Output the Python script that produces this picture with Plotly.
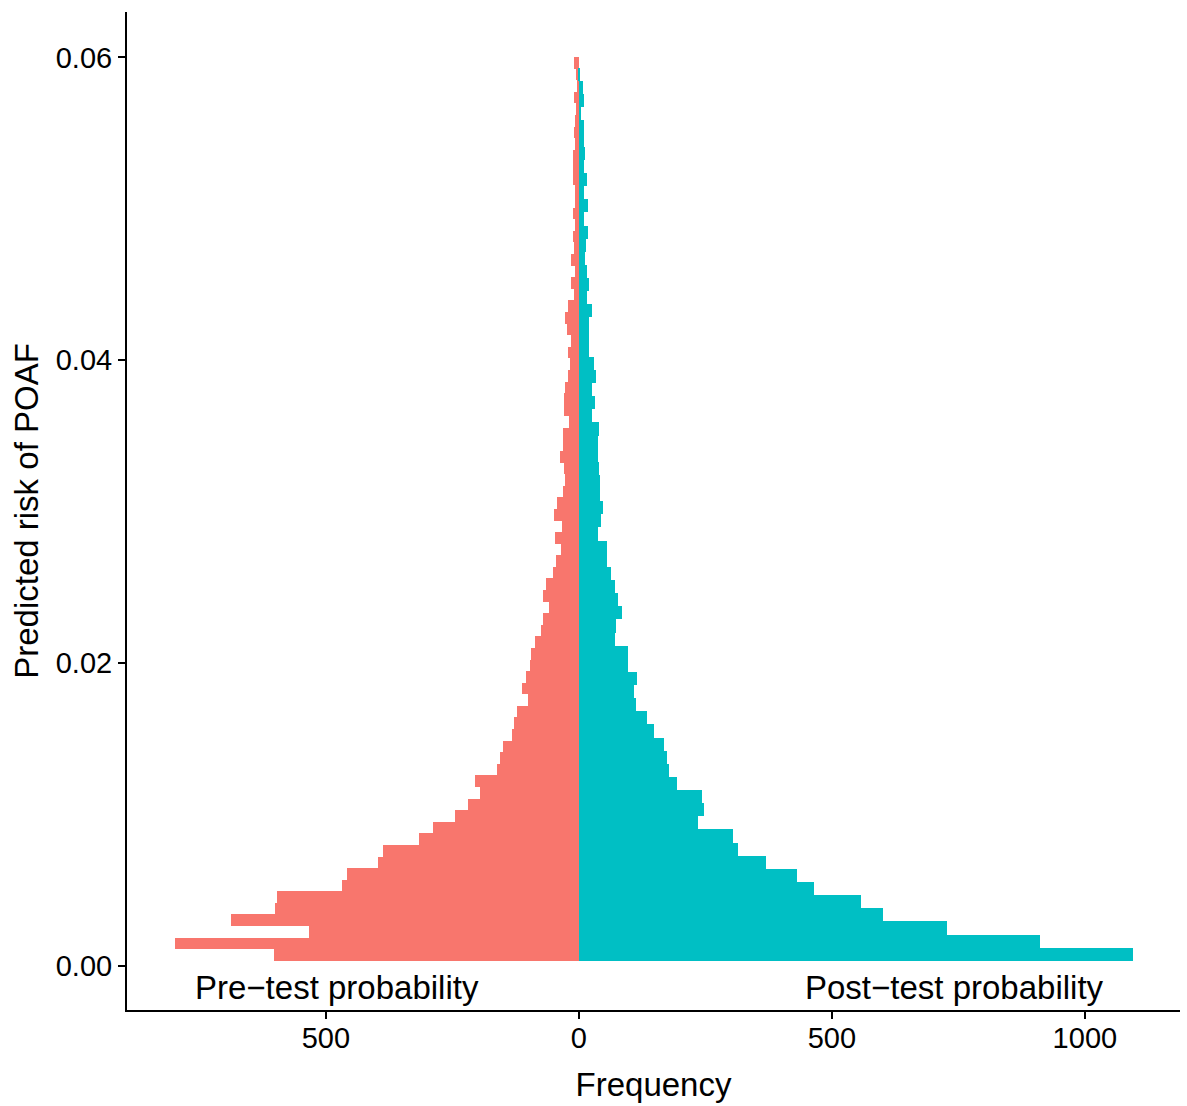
import plotly.graph_objects as go

# Histogram bin layout (predicted risk of POAF)
PRE_BIN_START = 0.00035
PRE_BIN_WIDTH = 0.000765
POST_BIN_START = 0.00035
POST_BIN_WIDTH = 0.000867

# Frequencies per bin, from lowest risk bin upward
pre_counts = [603, 798, 534, 688, 601, 597, 468, 459, 397, 387,
              316, 288, 245, 219, 196, 206, 162, 156, 150, 132,
              128, 122, 101, 113, 105, 97, 95, 87, 75, 71,
              59, 71, 65, 51, 45, 36, 47, 34, 49, 43,
              32, 28, 30, 38, 32, 32, 20, 30, 30, 28,
              22, 18, 22, 16, 24, 28, 22, 10, 16, 8,
              16, 10, 12, 8, 12, 8, 8, 12, 12, 12,
              8, 10, 8, 6, 10, 4, 6, 10]

post_counts = [1095, 911, 727, 601, 557, 464, 431, 370, 314, 304,
               235, 247, 244, 194, 178, 174, 168, 148, 134, 113,
               109, 115, 97, 97, 71, 73, 85, 77, 71, 63,
               55, 55, 38, 43, 47, 41, 41, 39, 38, 38,
               39, 26, 32, 26, 34, 30, 20, 20, 20, 26,
               16, 20, 16, 12, 14, 18, 10, 18, 10, 16,
               10, 12, 10, 10, 4, 10, 8, 2]

x_tick_vals = [-500, 0, 500, 1000]
x_tick_text = ["500", "0", "500", "1000"]
y_tick_vals = [0.0, 0.02, 0.04, 0.06]
y_tick_text = ["0.00", "0.02", "0.04", "0.06"]

pre_label = "Pre\u2212test probability"
post_label = "Post\u2212test probability"

pre_y = [PRE_BIN_START + PRE_BIN_WIDTH * (i + 0.5) for i in range(len(pre_counts))]
post_y = [POST_BIN_START + POST_BIN_WIDTH * (i + 0.5) for i in range(len(post_counts))]

FONT = "Liberation Sans, Arial, Helvetica, sans-serif"

fig = go.Figure()
fig.add_trace(go.Bar(
    y=pre_y, x=[-c for c in pre_counts], orientation="h",
    width=PRE_BIN_WIDTH, marker=dict(color="#F8766D", line=dict(width=0)),
    name="Pre-test", showlegend=False,
))
fig.add_trace(go.Bar(
    y=post_y, x=post_counts, orientation="h",
    width=POST_BIN_WIDTH, marker=dict(color="#00BFC4", line=dict(width=0)),
    name="Post-test", showlegend=False,
))

fig.add_annotation(x=-478, y=-0.00139, text=pre_label, showarrow=False,
                   font=dict(family=FONT, size=33, color="black"), xanchor="center", yanchor="middle")
fig.add_annotation(x=743, y=-0.00139, text=post_label, showarrow=False,
                   font=dict(family=FONT, size=33, color="black"), xanchor="center", yanchor="middle")

fig.update_layout(
    width=1187, height=1106,
    margin=dict(l=127, r=7, t=12, b=96),
    plot_bgcolor="white", paper_bgcolor="white",
    barmode="overlay", bargap=0,
    font=dict(family=FONT, color="black"),
)
fig.update_xaxes(
    range=[-893, 1188], tickvals=x_tick_vals, ticktext=x_tick_text,
    showline=True, linecolor="black", linewidth=2, mirror=False,
    ticks="outside", ticklen=7, tickwidth=2, tickcolor="black",
    showgrid=False, zeroline=False, ticklabelstandoff=-6,
    tickfont=dict(family=FONT, size=29, color="black"),
    title=dict(text="Frequency", font=dict(family=FONT, size=33, color="black"), standoff=20),
)
fig.update_yaxes(
    range=[-0.0029, 0.0630], tickvals=y_tick_vals, ticktext=y_tick_text,
    showline=True, linecolor="black", linewidth=2, mirror=False,
    ticks="outside", ticklen=7, tickwidth=2, tickcolor="black",
    showgrid=False, zeroline=False,
    tickfont=dict(family=FONT, size=29, color="black"),
    title=dict(text="Predicted risk of POAF", font=dict(family=FONT, size=33, color="black"), standoff=7),
)

fig.write_html(
    "out.html",
    config={"displayModeBar": False},
    post_script="document.body.style.margin='0';document.body.style.overflow='hidden';",
)
